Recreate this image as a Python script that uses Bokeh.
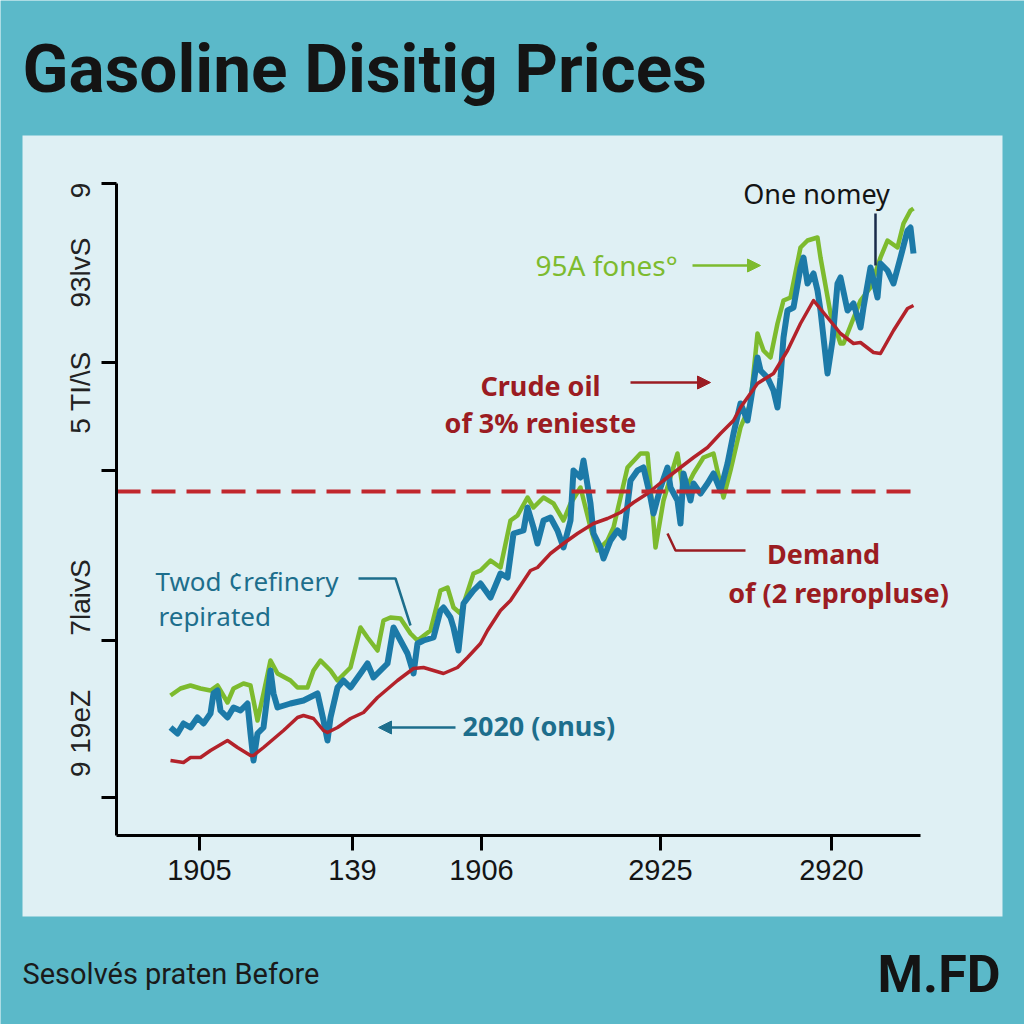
import math
from bokeh.plotting import figure
from bokeh.models import Range1d, LinearAxis, FixedTicker, Label, Arrow, NormalHead, BoxAnnotation
from bokeh.embed import file_html
from bokeh.resources import INLINE

# ---------------- data ----------------
xtick_pos = [83, 236, 365, 544, 715]
xtick_labels = ["1905", "139", "1906", "2925", "2920"]
ytick_pos = [652, 473, 365, 195, 38]
benchmark = 344
axis_x_end = 804
axis_y_end = 652

red_x = [54, 67, 74, 84, 94, 111, 121, 134, 137, 147, 167, 181, 187, 197, 207, 211, 221, 234, 247, 261,
         281, 297, 307, 317, 327, 341, 351, 364, 371, 384, 394, 414, 421, 434, 447, 461, 477, 491, 504, 517,
         531, 547, 564, 577, 591, 604, 617, 624, 641, 657, 671, 684, 697, 711, 724, 737, 744, 757, 764, 777,
         791, 797]
red_y = [75, 73, 78, 78, 85, 95, 88, 80, 80, 88, 105, 118, 120, 117, 105, 103, 108, 117, 123, 138,
         155, 167, 168, 165, 162, 168, 178, 192, 205, 225, 235, 265, 268, 282, 292, 302, 312, 317, 323, 333,
         342, 355, 368, 378, 388, 402, 415, 428, 452, 462, 485, 512, 535, 518, 502, 492, 493, 483, 482, 505,
         527, 530]

green_x = [54, 64, 74, 84, 94, 101, 111, 117, 127, 134, 141, 147, 154, 161, 174, 181, 191, 197, 204, 214,
           221, 234, 244, 251, 261, 267, 274, 284, 294, 301, 314, 324, 331, 337, 344, 357, 364, 374, 384, 394,
           401, 411, 417, 427, 437, 447, 454, 464, 474, 481, 491, 497, 511, 524, 531, 536, 539, 547, 561, 567,
           577, 587, 597, 607, 614, 624, 634, 641, 647, 654, 661, 667, 674, 684, 691, 701, 704, 714, 724, 727,
           744, 754, 764, 771, 781, 787, 794, 797]
green_y = [140, 147, 150, 147, 145, 150, 133, 147, 152, 150, 115, 142, 175, 162, 155, 148, 148, 165, 175, 165,
           155, 168, 208, 198, 185, 215, 218, 217, 202, 195, 205, 245, 248, 228, 222, 262, 265, 275, 268, 315,
           320, 338, 328, 338, 332, 315, 332, 348, 308, 285, 295, 308, 368, 382, 382, 325, 288, 335, 382, 342,
           362, 378, 382, 338, 365, 408, 432, 502, 485, 478, 512, 535, 538, 588, 595, 598, 578, 522, 492, 492,
           535, 548, 578, 595, 588, 612, 625, 627]

blue_x = [54, 61, 67, 74, 81, 87, 94, 97, 101, 104, 111, 117, 124, 131, 134, 137, 141, 147, 154, 157,
          161, 174, 187, 201, 207, 211, 214, 221, 227, 234, 244, 251, 257, 264, 271, 277, 284, 291, 297, 301,
          307, 317, 324, 327, 334, 337, 342, 347, 357, 364, 374, 384, 391, 397, 407, 411, 417, 421, 427, 434,
          441, 447, 454, 457, 464, 467, 474, 477, 484, 487, 494, 501, 507, 514, 521, 527, 534, 537, 544, 551,
          554, 561, 564, 567, 574, 577, 584, 591, 597, 604, 611, 617, 624, 631, 637, 641, 644, 651, 657, 661,
          664, 667, 671, 677, 684, 687, 691, 697, 701, 704, 707, 711, 716, 721, 724, 731, 737, 744, 747, 754,
          761, 764, 771, 777, 784, 791, 794, 797]
blue_y = [108, 102, 112, 108, 118, 112, 122, 142, 145, 125, 118, 128, 125, 132, 102, 75, 102, 108, 165, 142,
          128, 132, 135, 142, 115, 95, 118, 148, 155, 148, 162, 172, 158, 165, 172, 208, 195, 182, 162, 192,
          195, 198, 225, 228, 218, 208, 185, 232, 245, 252, 238, 262, 258, 302, 305, 328, 308, 292, 315, 318,
          305, 288, 315, 365, 358, 375, 332, 302, 288, 277, 295, 305, 298, 355, 365, 368, 338, 322, 348, 368,
          348, 335, 312, 362, 335, 352, 342, 352, 362, 345, 372, 402, 432, 415, 452, 478, 465, 458, 445, 428,
          458, 498, 525, 528, 568, 578, 552, 562, 545, 525, 498, 462, 495, 552, 558, 525, 532, 508, 528, 568,
          538, 572, 565, 552, 578, 605, 608, 582]

# ---------------- style ----------------
TEAL = "#5bb9c9"
PANEL = "#dff0f4"
GREEN = "#7dbb2e"
BLUE = "#1c7aa8"
RED = "#b3222a"
DRED = "#9b1c22"
TBLUE = "#1d6e8c"
INK = "#141414"

p = figure(width=1024, height=1024, title=None,
           x_range=Range1d(-116, 908), y_range=Range1d(-189, 835),
           x_axis_type=None, y_axis_type=None,
           output_backend="svg", toolbar_location=None,
           min_border_left=0, min_border_right=0, min_border_top=0, min_border_bottom=0)
p.background_fill_color = TEAL
p.border_fill_color = TEAL
p.outline_line_color = None

# light panel behind the chart
p.add_layout(BoxAnnotation(left=-94, right=886, bottom=-81, top=700,
                           fill_color=PANEL, fill_alpha=1.0, line_color=None, level="underlay"))

xaxis = LinearAxis(fixed_location=0, bounds=(0, axis_x_end), ticker=FixedTicker(ticks=xtick_pos),
                   major_label_overrides={t: l for t, l in zip(xtick_pos, xtick_labels)})
xaxis.axis_line_width = 3
xaxis.axis_line_color = "black"
xaxis.major_tick_line_width = 3
xaxis.major_tick_out = 15
xaxis.major_tick_in = 0
xaxis.minor_tick_line_color = None
xaxis.major_label_text_font = "Liberation Sans"
xaxis.major_label_text_font_size = "29px"
xaxis.major_label_text_color = INK
xaxis.major_label_standoff = 9
p.add_layout(xaxis, "below")

yaxis = LinearAxis(fixed_location=0, bounds=(0, axis_y_end), ticker=FixedTicker(ticks=ytick_pos),
                   major_label_overrides={t: "" for t in ytick_pos})
yaxis.axis_line_width = 3
yaxis.axis_line_color = "black"
yaxis.major_tick_line_width = 3
yaxis.major_tick_out = 15
yaxis.major_tick_in = 0
yaxis.minor_tick_line_color = None
p.add_layout(yaxis, "left")

# series
p.line(green_x, green_y, line_color=GREEN, line_width=4.5, line_join="round")
p.line(blue_x, blue_y, line_color=BLUE, line_width=6, line_join="round")
p.line(red_x, red_y, line_color=RED, line_width=3.5, line_join="round")

# benchmark dashed line
p.line([0, axis_x_end - 5], [benchmark, benchmark], line_color="#c1272d", line_width=4, line_dash="24 11")


def lab(text, x, y, size, color, bold=False, align="left", font="Noto Sans", angle=0, baseline="alphabetic"):
    if baseline == "alphabetic":
        y = y + 0.36 * size
    p.add_layout(Label(x=x, y=y, text=text, text_font=font, text_font_size=f"{size}px",
                       text_color=color, text_font_style="bold" if bold else "normal",
                       text_align=align, text_baseline=baseline, angle=angle))


def arrow(x0, y0, x1, y1, color):
    p.add_layout(Arrow(end=NormalHead(size=13, fill_color=color, line_color=color),
                       x_start=x0, y_start=y0, x_end=x1, y_end=y1,
                       line_color=color, line_width=2.5))


# title and footer
lab("Gasoline Disitig Prices", -94, 743, 67.5, INK, bold=True, font="Roboto")
lab("Sesolvés praten Before", -94, -149, 29, "#1a1a1a", font="Roboto")
lab("M.FD", 884, -158, 52, INK, bold=True, align="right", font="Roboto")

# rotated y labels
for t, yy in [("9", 645), ("93lvS", 563), ("5 TI/\\S", 443), ("7laivS", 238), ("9 19eZ", 102)]:
    lab(t, -36, yy, 28, "#222222", font="Liberation Sans", angle=math.pi / 2, align="center", baseline="middle")

# annotations
lab("One nomey", 700, 632, 27, INK, align="center")
p.line([759, 759], [570, 622], line_color="#1a2b4a", line_width=2.5)

lab("95A fones°", 419, 560, 28, GREEN)
arrow(576, 570, 644, 570, GREEN)

lab("Crude oil", 424, 440, 27, DRED, bold=True, align="center")
lab("of 3% renieste", 424, 403, 27, DRED, bold=True, align="center")
arrow(514, 453, 594, 453, DRED)

lab("Demand", 707, 272, 27, DRED, bold=True, align="center")
lab("of (2 repropluse)", 722, 233, 27, DRED, bold=True, align="center")
p.line([551, 559, 629], [302, 285, 285], line_color=DRED, line_width=2.5)

lab("Twod ¢refinery", 39, 245, 26, TBLUE)
lab("repirated", 42, 210, 26, TBLUE)
p.line([242, 279, 294], [257, 257, 210], line_color=TBLUE, line_width=2.5)

lab("2020 (onus)", 346, 100, 27, TBLUE, bold=True)
arrow(339, 108, 262, 108, TBLUE)

open("out.html", "w").write(file_html(p, INLINE))
